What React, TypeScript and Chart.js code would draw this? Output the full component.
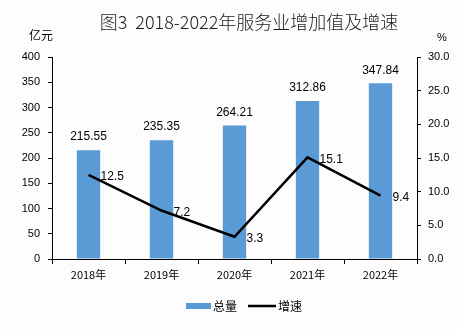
import React, { useEffect, useRef } from "react";
import { Chart, registerables } from "chart.js";

Chart.register(...registerables);

const categories = ["2018年", "2019年", "2020年", "2021年", "2022年"];
const totalValues = [215.55, 235.35, 264.21, 312.86, 347.84];
const growthValues = [12.5, 7.2, 3.3, 15.1, 9.4];
const leftTicks = [0, 50, 100, 150, 200, 250, 300, 350, 400];
const rightTicks = [0, 5, 10, 15, 20, 25, 30];
const titleText = "图3  2018-2022年服务业增加值及增速";
const leftUnit = "亿元";
const rightUnit = "%";
const legendLabels = ["总量", "增速"];

const FONT = "'Liberation Sans', Arial, sans-serif";
const CJK = "'Noto Sans CJK SC', 'Liberation Sans', sans-serif";
const BAR_COLOR = "#5b9bd5";

const W = 457;
const H = 329;

const decorPlugin = {
  id: "decor",
  beforeDraw(chart: any) {
    const ctx = chart.ctx;
    ctx.save();
    ctx.fillStyle = "#ffffff";
    ctx.fillRect(0, 0, W, H);
    ctx.strokeStyle = "rgba(0,0,0,0.035)";
    ctx.lineWidth = 1;
    ctx.beginPath();
    for (let k = -H; k < W + H; k += 4) {
      ctx.moveTo(k, H);
      ctx.lineTo(k + H, 0);
    }
    ctx.stroke();
    ctx.restore();
  },
  afterDraw(chart: any) {
    const ctx = chart.ctx;
    ctx.save();
    // title
    ctx.fillStyle = "#1a1a1a";
    ctx.font = `300 18px ${CJK}`;
    ctx.textAlign = "center";
    ctx.textBaseline = "middle";
    ctx.fillText(titleText, 249, 22);
    // units
    ctx.font = `12px ${CJK}`;
    ctx.fillStyle = "#000";
    ctx.fillText(leftUnit, 41, 35);
    ctx.font = `11px ${FONT}`;
    ctx.fillText(rightUnit, 442, 38);

    // bar labels
    const barMeta = chart.getDatasetMeta(0);
    ctx.font = `12px ${FONT}`;
    ctx.textAlign = "center";
    ctx.textBaseline = "middle";
    barMeta.data.forEach((el: any, i: number) => {
      ctx.fillText(totalValues[i].toFixed(2), el.x, el.y - 13);
    });
    // line labels
    const lineMeta = chart.getDatasetMeta(1);
    ctx.textAlign = "left";
    lineMeta.data.forEach((el: any, i: number) => {
      ctx.fillText(growthValues[i].toFixed(1), el.x + 12, el.y + 2);
    });

    // legend
    ctx.fillStyle = BAR_COLOR;
    ctx.fillRect(186, 303, 25, 6);
    ctx.fillStyle = "#000";
    ctx.font = `12px ${CJK}`;
    ctx.textAlign = "left";
    ctx.textBaseline = "middle";
    ctx.fillText(legendLabels[0], 213, 306);
    ctx.strokeStyle = "#000";
    ctx.lineWidth = 2.5;
    ctx.beginPath();
    ctx.moveTo(248, 306);
    ctx.lineTo(276, 306);
    ctx.stroke();
    ctx.fillText(legendLabels[1], 278, 306);
    ctx.restore();
  },
};

export default function App() {
  const ref = useRef<HTMLCanvasElement>(null);
  useEffect(() => {
    document.body.style.margin = "0";
    const chart = new Chart(ref.current as HTMLCanvasElement, {
      type: "bar",
      data: {
        labels: categories,
        datasets: [
          {
            type: "bar",
            label: legendLabels[0],
            data: totalValues,
            backgroundColor: BAR_COLOR,
            yAxisID: "y",
            categoryPercentage: 1,
            barPercentage: 0.32,
            order: 2,
          },
          {
            type: "line",
            label: legendLabels[1],
            data: growthValues,
            borderColor: "#000",
            borderWidth: 2.5,
            pointRadius: 0,
            tension: 0,
            yAxisID: "y1",
            order: 1,
          } as any,
        ],
      },
      options: {
        responsive: false,
        animation: false,
        devicePixelRatio: 1,
        layout: { padding: { top: 57, left: 0, right: 0, bottom: 0 } },
        plugins: { legend: { display: false }, tooltip: { enabled: false } },
        scales: {
          x: {
            grid: {
              display: true,
              drawOnChartArea: false,
              drawTicks: true,
              tickLength: 5,
              offset: true,
              color: "#000",
            },
            border: { display: true, color: "#000", width: 1 },
            ticks: { font: { family: CJK, size: 11 }, color: "#000", padding: 4 },
            afterFit: (s: any) => {
              s.height = 70;
            },
          },
          y: {
            position: "left",
            min: 0,
            max: 400,
            afterBuildTicks: (s: any) => {
              s.ticks = leftTicks.map((v) => ({ value: v }));
            },
            grid: { drawOnChartArea: false, drawTicks: true, tickLength: 4, color: "#000" },
            border: { display: true, color: "#000", width: 1 },
            ticks: { font: { family: FONT, size: 11 }, color: "#000", padding: 8 },
            afterFit: (s: any) => {
              s.width = 52;
            },
          },
          y1: {
            position: "right",
            min: 0,
            max: 30,
            afterBuildTicks: (s: any) => {
              s.ticks = rightTicks.map((v) => ({ value: v }));
            },
            grid: { drawOnChartArea: false, drawTicks: true, tickLength: 4, color: "#000" },
            border: { display: true, color: "#000", width: 1 },
            ticks: {
              font: { family: FONT, size: 11 },
              color: "#000",
              padding: 7,
              callback: (v: any) => Number(v).toFixed(1),
            },
            afterFit: (s: any) => {
              s.width = 40;
            },
          },
        },
      },
      plugins: [decorPlugin],
    });
    return () => chart.destroy();
  }, []);
  return (
    <div style={{ position: "absolute", left: 0, top: 0, width: W, height: H }}>
      <canvas ref={ref} width={W} height={H} style={{ width: W, height: H, display: "block" }} />
    </div>
  );
}
